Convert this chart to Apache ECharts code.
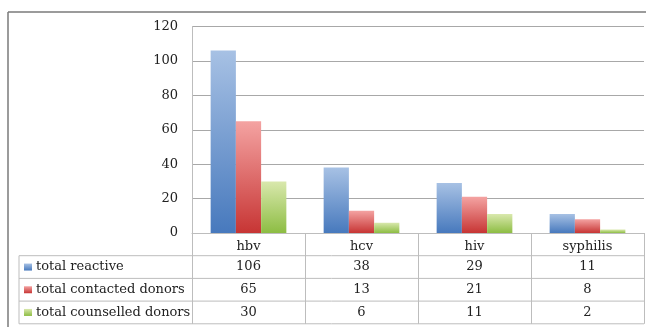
<!DOCTYPE html>
<html>
<head>
<meta charset="utf-8">
<script src="https://cdn.jsdelivr.net/npm/echarts@6/dist/echarts.min.js"></script>
<style>
  html, body { margin: 0; padding: 0; background: #fff; }
  #chart { width: 647px; height: 327px; }
</style>
</head>
<body>
<div id="chart"></div>
<script>
// Screening outcomes per infection, with a data table under the axis
const categories = ['hbv', 'hcv', 'hiv', 'syphilis'];
const seriesNames = ['total reactive', 'total contacted donors', 'total counselled donors'];
const totalReactive = [106, 38, 29, 11];
const totalContacted = [65, 13, 21, 8];
const totalCounselled = [30, 6, 11, 2];
const yTicks = { min: 0, max: 120, interval: 20 };

const rows = [totalReactive, totalContacted, totalCounselled];
const FONT = '"DejaVu Serif", serif';
const GRID = { left: 192, right: 3, top: 26.5, bottom: 94 };
const ROW_H = 22.7;
const TABLE_LEFT = 19;
const LINE = '#bdbdbd';

const grads = [
  ['#a7c1e4', '#4779bd'],
  ['#f4a3a2', '#c73534'],
  ['#d9e8ad', '#8dbd43']
];
function grad(c) {
  return new echarts.graphic.LinearGradient(0, 0, 0, 1, [
    { offset: 0, color: c[0] }, { offset: 1, color: c[1] }
  ]);
}

const chart = echarts.init(document.getElementById('chart'), null, { renderer: 'canvas' });

const option = {
  animation: false,
  grid: GRID,
  xAxis: {
    type: 'category',
    data: categories,
    axisLine: { lineStyle: { color: LINE, width: 1 } },
    axisTick: { show: true, length: ROW_H * 4, lineStyle: { color: LINE } },
    axisLabel: { color: '#222', fontFamily: FONT, fontSize: 13, margin: 7 }
  },
  yAxis: {
    type: 'value',
    min: yTicks.min, max: yTicks.max, interval: yTicks.interval,
    axisLine: { show: true, lineStyle: { color: LINE } },
    axisTick: { show: false },
    axisLabel: { color: '#222', fontFamily: FONT, fontSize: 13, margin: 14 },
    splitLine: { lineStyle: { color: '#a8a8a8', width: 1.2 } }
  },
  series: rows.map((vals, i) => ({
    name: seriesNames[i],
    type: 'bar',
    data: vals,
    barGap: '0%',
    barCategoryGap: '33%',
    itemStyle: { color: grad(grads[i]) }
  }))
};
chart.setOption(option);

// Data table beneath the plot: one row per series, one column per category
function buildTable() {
  const els = [];
  const y0 = 327 - GRID.bottom;
  const right = 647 - GRID.right;
  // outer frame
  els.push({ type: 'line', shape: { x1: 8, y1: 12, x2: 646, y2: 12 }, style: { stroke: '#7a7a7a', lineWidth: 1.5 } });
  els.push({ type: 'line', shape: { x1: 8, y1: 12, x2: 8, y2: 327 }, style: { stroke: '#7a7a7a', lineWidth: 1.5 } });
  // horizontal rules
  for (let r = 1; r <= 4; r++) {
    const y = y0 + ROW_H * r;
    els.push({ type: 'line', shape: { x1: TABLE_LEFT, y1: y, x2: right, y2: y }, style: { stroke: LINE, lineWidth: 1 } });
  }
  // left edge of the legend column
  els.push({ type: 'line', shape: { x1: TABLE_LEFT, y1: y0 + ROW_H, x2: TABLE_LEFT, y2: y0 + ROW_H * 4 }, style: { stroke: LINE, lineWidth: 1 } });
  rows.forEach((vals, i) => {
    const cy = y0 + ROW_H * (i + 1.5);
    els.push({ type: 'rect', shape: { x: 24, y: cy - 3.5, width: 8, height: 7 }, style: { fill: grad(grads[i]) } });
    els.push({ type: 'text', x: 36, y: cy, style: { text: seriesNames[i], font: '13px ' + FONT, fill: '#222', textVerticalAlign: 'middle', verticalAlign: 'middle' } });
    vals.forEach((v, j) => {
      const x = chart.convertToPixel({ xAxisIndex: 0 }, categories[j]);
      els.push({ type: 'text', x: x, y: cy, style: { text: String(v), font: '13px ' + FONT, fill: '#222', align: 'center', verticalAlign: 'middle' } });
    });
  });
  chart.setOption({ graphic: els });
}
buildTable();
</script>
</body>
</html>
